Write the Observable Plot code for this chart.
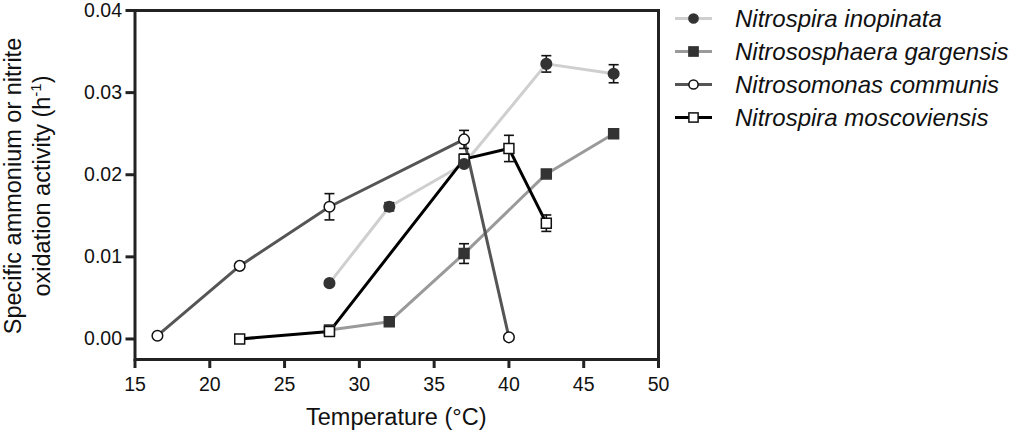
<!DOCTYPE html>
<html>
<head>
<meta charset="utf-8">
<script src="https://cdn.jsdelivr.net/npm/d3@7"></script>
<script src="https://cdn.jsdelivr.net/npm/@observablehq/plot@0.6"></script>
<style>
  html, body { margin: 0; padding: 0; background: #fff; }
  #chart { width: 1021px; height: 434px; }
  svg { font-family: "Liberation Sans", Arial, sans-serif; }
</style>
</head>
<body>
<div id="chart"></div>
<script>
// ---- data ----
const seriesNames = ["Nitrospira inopinata", "Nitrososphaera gargensis", "Nitrosomonas communis", "Nitrospira moscoviensis"];

const tempInopinata = [28, 32, 37, 42.5, 47];
const actInopinata  = [0.0068, 0.0161, 0.0213, 0.0335, 0.0323];
const errInopinata  = [0, 0.0005, 0, 0.0010, 0.0011];

const tempGargensis = [28, 32, 37, 42.5, 47];
const actGargensis  = [0.0011, 0.0021, 0.0104, 0.0201, 0.0250];
const errGargensis  = [0, 0, 0.0012, 0, 0];

const tempCommunis = [16.5, 22, 28, 37, 40];
const actCommunis  = [0.0004, 0.0089, 0.0161, 0.0243, 0.0002];
const errCommunis  = [0, 0, 0.0016, 0.0011, 0];

const tempMoscoviensis = [22, 28, 37, 40, 42.5];
const actMoscoviensis  = [0.0000, 0.0009, 0.0219, 0.0232, 0.0141];
const errMoscoviensis  = [0, 0, 0.0006, 0.0016, 0.0010];

const xTicks = [15, 20, 25, 30, 35, 40, 45, 50];
const yTicks = [0, 0.01, 0.02, 0.03, 0.04];

// ---- styles ----
const style = {
  "Nitrospira inopinata":    {line: "#cfcfcf", fill: "#333333", stroke: "#333333", symbol: "circle"},
  "Nitrososphaera gargensis":{line: "#9a9a9a", fill: "#333333", stroke: "#333333", symbol: "square"},
  "Nitrosomonas communis":   {line: "#555555", fill: "#ffffff", stroke: "#111111", symbol: "circle"},
  "Nitrospira moscoviensis": {line: "#000000", fill: "#ffffff", stroke: "#111111", symbol: "square"}
};

function rows(name, t, a, e) {
  return t.map((x, i) => ({series: name, x, y: a[i], err: e[i]}));
}
const data = {
  "Nitrospira inopinata": rows("Nitrospira inopinata", tempInopinata, actInopinata, errInopinata),
  "Nitrososphaera gargensis": rows("Nitrososphaera gargensis", tempGargensis, actGargensis, errGargensis),
  "Nitrosomonas communis": rows("Nitrosomonas communis", tempCommunis, actCommunis, errCommunis),
  "Nitrospira moscoviensis": rows("Nitrospira moscoviensis", tempMoscoviensis, actMoscoviensis, errMoscoviensis)
};
const allRows = Object.values(data).flat();
const errRows = allRows.filter(d => d.err > 0);

const capSymbol = {draw(ctx) { ctx.moveTo(-5, 0); ctx.lineTo(5, 0); }};

const lineOrder = ["Nitrososphaera gargensis", "Nitrospira inopinata", "Nitrosomonas communis", "Nitrospira moscoviensis"];
const dotOrder  = ["Nitrososphaera gargensis", "Nitrosomonas communis", "Nitrospira moscoviensis", "Nitrospira inopinata"];

const marks = [];
for (const s of lineOrder) {
  marks.push(Plot.line(data[s], {x: "x", y: "y", stroke: style[s].line, strokeWidth: 3, strokeLinejoin: "round"}));
}
marks.push(Plot.ruleX(errRows, {x: "x", y1: d => d.y - d.err, y2: d => d.y + d.err, stroke: "#111", strokeWidth: 1.6}));
marks.push(Plot.dot(errRows, {x: "x", y: d => d.y + d.err, symbol: capSymbol, stroke: "#111", strokeWidth: 1.6, fill: "none"}));
marks.push(Plot.dot(errRows, {x: "x", y: d => d.y - d.err, symbol: capSymbol, stroke: "#111", strokeWidth: 1.6, fill: "none"}));
for (const s of dotOrder) {
  const st = style[s];
  marks.push(Plot.dot(data[s], {x: "x", y: "y", symbol: st.symbol, r: st.symbol === "square" ? 5.6 : 5.3,
    fill: st.fill, stroke: st.stroke, strokeWidth: 1.5}));
}

const plot = Plot.plot({
  width: 1021,
  height: 434,
  marginLeft: 134.5,
  marginRight: 363,
  marginTop: 10,
  marginBottom: 75,
  style: {fontFamily: '"Liberation Sans", Arial, sans-serif', fontSize: "19.5px", color: "#111", background: "#fff"},
  x: {domain: [15, 50]},
  y: {domain: [-0.0025, 0.04]},
  marks: [
    Plot.axisX({ticks: xTicks, tickSize: 9, tickPadding: 9, tickFormat: d => String(d), label: null, stroke: "#222", strokeWidth: 3, fontSize: 19.5}),
    Plot.axisY({ticks: yTicks, tickSize: 9, tickPadding: 4, tickFormat: d3.format(".2f"), label: null, stroke: "#222", strokeWidth: 3, fontSize: 19.5}),
    ...marks,
    Plot.frame({stroke: "#222", strokeWidth: 3})
  ]
});

document.getElementById("chart").appendChild(plot);

// ---- titles ----
const svg = d3.select(plot);
svg.append("text")
  .attr("x", 396.25).attr("y", 425)
  .attr("text-anchor", "middle")
  .attr("font-size", 23.5).attr("fill", "#111")
  .text("Temperature (°C)");

const yt1 = svg.append("text")
  .attr("transform", "translate(21,186) rotate(-90)")
  .attr("text-anchor", "middle").attr("font-size", 23.5).attr("fill", "#111")
  .text("Specific ammonium or nitrite");
const yt2 = svg.append("text")
  .attr("transform", "translate(50,186) rotate(-90)")
  .attr("text-anchor", "middle").attr("font-size", 23.5).attr("fill", "#111");
yt2.append("tspan").text("oxidation activity (h");
yt2.append("tspan").attr("font-size", 15).attr("dy", -9).text("-1");
yt2.append("tspan").attr("dy", 9).text(")");

// ---- legend ----
const lg = svg.append("g").attr("text-anchor", "start");
seriesNames.forEach((s, i) => {
  const y = 18.5 + i * 33;
  const st = style[s];
  lg.append("line").attr("x1", 675).attr("x2", 712).attr("y1", y).attr("y2", y)
    .attr("stroke", st.line).attr("stroke-width", 3);
  if (st.symbol === "circle") {
    lg.append("circle").attr("cx", 693.5).attr("cy", y).attr("r", 4.6)
      .attr("fill", st.fill).attr("stroke", st.stroke).attr("stroke-width", 1.5);
  } else {
    lg.append("rect").attr("x", 693.5 - 4.6).attr("y", y - 4.6).attr("width", 9.2).attr("height", 9.2)
      .attr("fill", st.fill).attr("stroke", st.stroke).attr("stroke-width", 1.5);
  }
  lg.append("text").attr("x", 735).attr("y", y).attr("dy", "0.35em")
    .attr("text-anchor", "start")
    .attr("font-size", 24).attr("font-style", "italic").attr("fill", "#111")
    .text(s);
});
</script>
</body>
</html>
